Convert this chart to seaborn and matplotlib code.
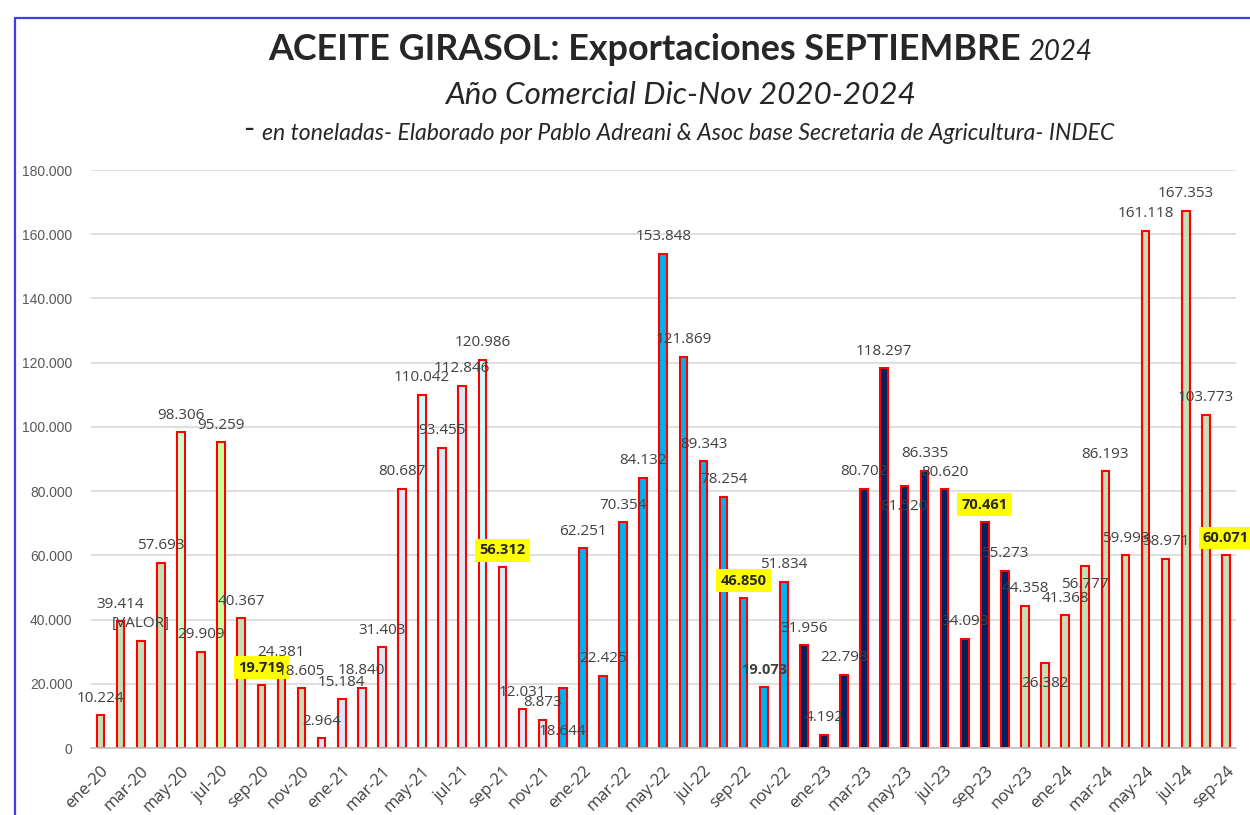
import matplotlib
matplotlib.use("Agg")
import matplotlib.pyplot as plt
import numpy as np
import pandas as pd
import seaborn as sns
from matplotlib.lines import Line2D

# ---------------- data ----------------
meses = [
    "ene-20", "feb-20", "mar-20", "abr-20", "may-20", "jun-20", "jul-20", "ago-20", "sep-20", "oct-20", "nov-20", "dic-20",
    "ene-21", "feb-21", "mar-21", "abr-21", "may-21", "jun-21", "jul-21", "ago-21", "sep-21", "oct-21", "nov-21", "dic-21",
    "ene-22", "feb-22", "mar-22", "abr-22", "may-22", "jun-22", "jul-22", "ago-22", "sep-22", "oct-22", "nov-22", "dic-22",
    "ene-23", "feb-23", "mar-23", "abr-23", "may-23", "jun-23", "jul-23", "ago-23", "sep-23", "oct-23", "nov-23", "dic-23",
    "ene-24", "feb-24", "mar-24", "abr-24", "may-24", "jun-24", "jul-24", "ago-24", "sep-24",
]
toneladas = [
    10224, 39414, 33400, 57693, 98306, 29909, 95259, 40367, 19719, 24381, 18605, 2964,
    15184, 18840, 31403, 80687, 110042, 93455, 112846, 120986, 56312, 12031, 8873, 18644,
    62251, 22425, 70354, 84132, 153848, 121869, 89343, 78254, 46850, 19073, 51834, 31956,
    4192, 22798, 80702, 118297, 81520, 86335, 80620, 34098, 70461, 55273, 44358, 26382,
    41368, 56777, 86193, 59993, 161118, 58971, 167353, 103773, 60071,
]
# label text overrides (as printed on the chart)
etiquetas_especiales = {"mar-20": "[VALOR]"}
meses_destacados = ["sep-20", "sep-21", "sep-22", "sep-23", "sep-24"]
meses_negrita = ["oct-22"]
y_ticks = [0, 20000, 40000, 60000, 80000, 100000, 120000, 140000, 160000, 180000]

titulo = "ACEITE GIRASOL: Exportaciones SEPTIEMBRE"
titulo_anio = "2024"
subtitulo = "Año Comercial Dic-Nov 2020-2024"
fuente_guion = "-"
fuente = "en toneladas- Elaborado por Pablo Adreani & Asoc base Secretaria de Agricultura- INDEC"

# ---------------- styles ----------------
GREEN, LBLUE, BLUE, NAVY = "#C5E0B4", "#DAE9F8", "#00B0F0", "#002060"
colores = [GREEN] * 11 + [LBLUE] * 12 + [BLUE] * 12 + [NAVY] * 11 + [GREEN] * 11
colores[4] = "#CCFFCC"
colores[6] = "#CCFF99"
colores[16] = "#CCFFFF"
colores[19] = "#CCFFFF"
# vertical offset (px) of the label centre relative to bar top
label_dy = {"dic-21": -43, "may-23": -20, "dic-23": -20, "feb-24": -19}

W, H = 1250, 815
sns.set_style("white")
plt.rcParams["font.family"] = ["Open Sans", "DejaVu Sans"]

fig = plt.figure(figsize=(W / 100, H / 100), dpi=100)
ax = fig.add_axes([90.5 / W, 1 - 748 / H, (1236 - 90.5) / W, (748 - 170) / H])

df = pd.DataFrame({"mes": meses, "valor": toneladas})
sns.barplot(data=df, x="mes", y="valor", hue="mes", palette=colores, legend=False,
            saturation=1, width=0.38, edgecolor="#FF0000", linewidth=1.5, ax=ax,
            order=meses, hue_order=meses, errorbar=None)

ax.set_xlim(-0.5, len(meses) - 0.5)
ax.set_ylim(0, 180000)
ax.set_yticks(y_ticks)
ax.set_yticklabels([f"{v:,.0f}".replace(",", ".") for v in y_ticks],
                   fontsize=10, color="#595959", family=["Liberation Sans", "DejaVu Sans"])
ax.tick_params(axis="y", length=0, pad=13)
ax.grid(axis="y", color="#D9D9D9", linewidth=1.2)
ax.set_axisbelow(True)
for s in ["top", "right", "left"]:
    ax.spines[s].set_visible(False)
ax.spines["bottom"].set_color("#BFBFBF")
ax.spines["bottom"].set_linewidth(1.2)

ax.set_xticks(range(0, len(meses), 2))
ax.set_xticklabels(meses[::2], rotation=45, ha="right", rotation_mode="anchor",
                   fontsize=12, color="#404040")
ax.set_xticks(np.arange(-0.5, len(meses) - 1, 2), minor=True)
ax.tick_params(axis="x", which="major", length=0, pad=11)
ax.tick_params(axis="x", which="minor", length=5, color="#BFBFBF", width=1.2)
ax.set_xlabel("")
ax.set_ylabel("")

# data labels
for i, (m, v) in enumerate(zip(meses, toneladas)):
    txt = etiquetas_especiales.get(m, f"{v:,.0f}".replace(",", "."))
    dy = label_dy.get(m, 17)
    kw = dict(ha="center", va="center", fontsize=11, color="#404040",
              textcoords="offset pixels", annotation_clip=False, zorder=5)
    if m in meses_destacados:
        kw.update(fontweight="bold", color="#262626", fontsize=10.5,
                  bbox=dict(boxstyle="square,pad=0.3", fc="#FFFF00", ec="none"))
    elif m in meses_negrita:
        kw.update(fontweight="bold", fontsize=10.5)
    ax.annotate(txt, (i, v), xytext=(0, dy), **kw)

# titles
def fx(x):
    return x / W

def fy(y):
    return 1 - y / H

renderer = fig.canvas.get_renderer()

def fit(t, target):
    w = t.get_window_extent(renderer=renderer).width
    t.set_fontsize(t.get_fontsize() * target / w)

tfam = ["Lato", "DejaVu Sans"]
t1 = fig.text(fx(268), fy(60), titulo, fontsize=26, fontweight="bold", color="#262626",
              family=tfam, ha="left", va="baseline")
fit(t1, 754)
t2 = fig.text(fx(1028), fy(60), titulo_anio, fontsize=20, fontstyle="italic", color="#262626",
              family=tfam, ha="left", va="baseline")
fit(t2, 64)
t3 = fig.text(fx(680), fy(104), subtitulo, fontsize=22, fontstyle="italic", color="#262626",
              family=tfam, ha="center", va="baseline")
fit(t3, 471)
t4a = fig.text(fx(243), fy(138), fuente_guion, fontsize=22, color="#262626",
               family=tfam, ha="left", va="baseline")
t4 = fig.text(fx(262), fy(140), fuente, fontsize=15, fontstyle="italic", color="#262626",
              family=tfam, ha="left", va="baseline")
fit(t4, 854)

# frame lines (top and left blue border)
fig.add_artist(Line2D([fx(15), fx(15)], [fy(18), 0], color="#3F3FE8", linewidth=1.6))
fig.add_artist(Line2D([fx(15), 1], [fy(18), fy(18)], color="#3F3FE8", linewidth=1.6))

fig.savefig("out.png", dpi=100)
